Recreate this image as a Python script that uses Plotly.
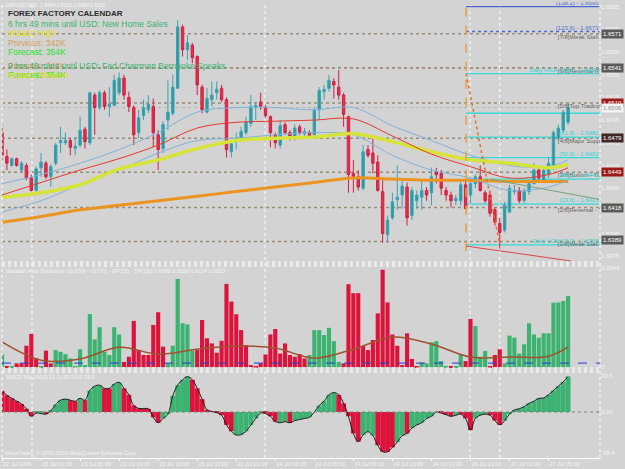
import plotly.graph_objects as go

# ---------------- data ----------------
bar_idx = list(range(117))
opens = [1.6484,1.6463,1.6455,1.6461,1.6451,1.6455,1.6444,1.6433,1.6453,1.6457,
         1.6445,1.6457,1.6475,1.6475,1.6477,1.6470,1.6473,1.6487,1.6475,1.6517,
         1.6506,1.6519,1.6507,1.6508,1.6519,1.6532,1.6515,1.6506,1.6484,1.6499,
         1.6504,1.6507,1.6482,1.6470,1.6495,1.6501,1.6523,1.6577,1.6557,1.6561,
         1.6551,1.6524,1.6502,1.6513,1.6519,1.6523,1.6513,1.6467,1.6476,1.6479,
         1.6484,1.6492,1.6506,1.6511,1.6506,1.6498,1.6482,1.6473,1.6491,1.6484,
         1.6480,1.6489,1.6483,1.6484,1.6482,1.6504,1.6520,1.6523,1.6529,1.6524,
         1.6517,1.6498,1.6448,1.6445,1.6435,1.6469,1.6466,1.6458,1.6432,1.6394,
         1.6409,1.6425,1.6429,1.6436,1.6411,1.6424,1.6427,1.6433,1.6431,1.6449,
         1.6448,1.6433,1.6429,1.6424,1.6424,1.6438,1.6429,1.6439,1.6445,1.6431,
         1.6429,1.6416,1.6404,1.6398,1.6414,1.6432,1.6433,1.6424,1.6432,1.6439,
         1.6451,1.6442,1.6447,1.6453,1.6479,1.6486,1.6493]
highs = [1.6491,1.6469,1.6462,1.6462,1.6459,1.6457,1.6447,1.6454,1.6466,1.6459,
         1.6456,1.6475,1.6489,1.6484,1.6479,1.6480,1.6498,1.6489,1.6520,1.6519,
         1.6521,1.6521,1.6524,1.6535,1.6537,1.6535,1.6520,1.6508,1.6504,1.6513,
         1.6517,1.6514,1.6486,1.6494,1.6530,1.6535,1.6583,1.6579,1.6570,1.6563,
         1.6552,1.6526,1.6523,1.6529,1.6529,1.6526,1.6515,1.6477,1.6484,1.6489,
         1.6498,1.6517,1.6511,1.6519,1.6508,1.6499,1.6484,1.6495,1.6493,1.6486,
         1.6491,1.6491,1.6488,1.6486,1.6506,1.6524,1.6526,1.6535,1.6532,1.6539,
         1.6519,1.6499,1.6460,1.6451,1.6473,1.6473,1.6479,1.6464,1.6444,1.6411,
         1.6431,1.6455,1.6442,1.6440,1.6436,1.6433,1.6442,1.6436,1.6453,1.6453,
         1.6451,1.6436,1.6432,1.6429,1.6442,1.6442,1.6444,1.6447,1.6455,1.6433,
         1.6433,1.6418,1.6409,1.6423,1.6438,1.6438,1.6436,1.6435,1.6442,1.6457,
         1.6454,1.6455,1.6462,1.6486,1.6491,1.6504,1.6510]
lows = [1.6460,1.6451,1.6454,1.6454,1.6449,1.6442,1.6432,1.6432,1.6445,1.6443,
        1.6436,1.6455,1.6466,1.6473,1.6464,1.6464,1.6471,1.6470,1.6473,1.6482,
        1.6504,1.6504,1.6498,1.6507,1.6517,1.6513,1.6502,1.6473,1.6479,1.6495,
        1.6501,1.6471,1.6451,1.6466,1.6486,1.6499,1.6523,1.6551,1.6548,1.6545,
        1.6517,1.6501,1.6501,1.6507,1.6513,1.6511,1.6462,1.6462,1.6469,1.6477,
        1.6482,1.6489,1.6495,1.6504,1.6497,1.6471,1.6470,1.6470,1.6482,1.6477,
        1.6477,1.6482,1.6480,1.6479,1.6480,1.6495,1.6513,1.6520,1.6514,1.6513,
        1.6489,1.6431,1.6431,1.6433,1.6433,1.6462,1.6448,1.6432,1.6387,1.6387,
        1.6407,1.6416,1.6417,1.6402,1.6407,1.6417,1.6416,1.6424,1.6420,1.6439,
        1.6429,1.6424,1.6418,1.6420,1.6420,1.6416,1.6422,1.6435,1.6432,1.6422,
        1.6410,1.6402,1.6382,1.6396,1.6413,1.6429,1.6422,1.6422,1.6429,1.6438,
        1.6440,1.6440,1.6444,1.6451,1.6477,1.6484,1.6491]
closes = [1.6464,1.6457,1.6461,1.6455,1.6457,1.6444,1.6433,1.6452,1.6458,1.6445,
          1.6454,1.6473,1.6477,1.6477,1.6471,1.6472,1.6486,1.6476,1.6519,1.6506,
          1.6519,1.6507,1.6509,1.6530,1.6532,1.6517,1.6507,1.6482,1.6497,1.6506,
          1.6509,1.6484,1.6469,1.6491,1.6502,1.6524,1.6577,1.6557,1.6563,1.6550,
          1.6526,1.6504,1.6514,1.6517,1.6522,1.6513,1.6469,1.6474,1.6479,1.6485,
          1.6493,1.6507,1.6508,1.6507,1.6499,1.6484,1.6475,1.6490,1.6484,1.6480,
          1.6488,1.6484,1.6485,1.6481,1.6504,1.6521,1.6522,1.6530,1.6526,1.6517,
          1.6500,1.6447,1.6445,1.6436,1.6467,1.6464,1.6457,1.6433,1.6395,1.6407,
          1.6423,1.6427,1.6437,1.6409,1.6433,1.6429,1.6433,1.6429,1.6445,1.6447,
          1.6435,1.6429,1.6424,1.6426,1.6438,1.6417,1.6439,1.6445,1.6433,1.6424,
          1.6413,1.6405,1.6396,1.6420,1.6435,1.6433,1.6424,1.6432,1.6439,1.6451,
          1.6444,1.6451,1.6457,1.6484,1.6488,1.6502,1.6506]

ma_idx = [0, 8, 16, 24, 32, 40, 48, 56, 64, 72, 80, 88, 96, 104, 112, 116]
ma_orange = [1.6405,1.6410,1.6416,1.6420,1.6424,1.6428,1.6432,1.6436,1.6440,1.6444,1.6443,1.6442,1.6442,1.6441,1.6441,1.6441]
ma_yellow = [1.6427,1.6431,1.6438,1.6452,1.6460,1.6470,1.6477,1.6479,1.6480,1.6483,1.6476,1.6467,1.6460,1.6457,1.6453,1.6456]
ma_red    = [1.6429,1.6440,1.6451,1.6461,1.6473,1.6488,1.6493,1.6494,1.6495,1.6496,1.6481,1.6465,1.6454,1.6444,1.6447,1.6453]
band_up   = [1.6439,1.6447,1.6457,1.6469,1.6484,1.6502,1.6506,1.6506,1.6504,1.6506,1.6490,1.6477,1.6464,1.6455,1.6454,1.6460]
band_lo   = [1.6414,1.6424,1.6438,1.6451,1.6466,1.6477,1.6479,1.6482,1.6484,1.6482,1.6464,1.6451,1.6444,1.6433,1.6436,1.6442]

murrey_levels = [1.6571, 1.6541, 1.6510, 1.6479, 1.6449, 1.6418, 1.6388]
murrey_names = ["[7/8]Weak Stall and Reverse", "[6/8]Reversal Resistance", "[5/8]Top Trading Range",
                "[4/8]Major Support/Resistance", "[3/8]Bottom - Trading Range",
                "[2/8]Reversal - Support", "[1/8]Weak Stall and Reverse"]
fib_levels = [1.6595, 1.6573, 1.6536, 1.6501, 1.6480, 1.6462, 1.6443, 1.6421, 1.6385]
fib_names = ["(138.2) - 1.6595", "(123.6) - 1.6573", "Daily HIGH (100) - 1.6536", "",
             "(61.8) - 1.6480", "(50.0) - 1.6462", "(38.2) - 1.6443", "(23.6) - 1.6421",
             "Daily LOW (0.0) - 1.6385"]
bid_price = 1.6506
box_prices = [1.6571, 1.6541, 1.6510, 1.6506, 1.6479, 1.6449, 1.6418, 1.6389]
price_ticks = [1.6375, 1.6395, 1.6415, 1.6435, 1.6455, 1.6475, 1.6495, 1.6515, 1.6535, 1.6555, 1.6575, 1.6595]

wae_vals = [0.0045,0.0003,0.0004,0.0013,0.0013,0.0074,0.0115,0.0030,0.0002,0.0057,
            0.0013,0.0059,0.0053,0.0045,0.0030,0.0004,0.0062,0.0007,0.0184,0.0096,
            0.0138,0.0053,0.0042,0.0138,0.0113,0.0018,0.0036,0.0160,0.0059,0.0042,
            0.0042,0.0146,0.0190,0.0071,0.0013,0.0074,0.0305,0.0152,0.0148,0.0056,
            0.0059,0.0163,0.0100,0.0082,0.0050,0.0091,0.0288,0.0227,0.0183,0.0128,
            0.0076,0.0007,0.0001,0.0013,0.0044,0.0113,0.0132,0.0047,0.0082,0.0042,
            0.0036,0.0045,0.0030,0.0042,0.0128,0.0128,0.0111,0.0136,0.0090,0.0018,
            0.0013,0.0287,0.0256,0.0256,0.0073,0.0059,0.0094,0.0186,0.0337,0.0224,
            0.0113,0.0074,0.0007,0.0117,0.0028,0.0001,0.0016,0.0013,0.0086,0.0090,
            0.0021,0.0004,0.0002,0.0002,0.0044,0.0021,0.0167,0.0142,0.0036,0.0056,
            0.0002,0.0042,0.0062,0.0013,0.0109,0.0102,0.0047,0.0079,0.0152,0.0113,
            0.0102,0.0117,0.0117,0.0223,0.0224,0.0229,0.0246]
wae_dir = list("GRGRRRRRGR" "RGGGGGGGGG" "GGGGGRRRRR" "RRRRGGGGGG" "RRRRRRRRRR"
               "RRRRRRRRRR" "RRRGGGGGGG" "RRRRRRRRRR" "RRRRRRGGGG" "GGRGGRRGGG"
               "RRRGGGGGGG" "GGGGGGG")
wae_line = [0.0087,0.0024,0.0028,0.0069,0.0045,0.0062,0.0073,0.0066,0.0031,0.0062,0.0104,0.0080,0.0035,0.0035,0.0038,0.0069]
wae_dead = 0.0014

macd = [19.8,15.5,12.8,10.2,7.5,3.0,-4.0,-1.0,-1.5,-2.0,
        1.0,7.0,11.0,12.0,11.0,10.0,12.7,11.0,20.0,24.0,
        25.0,22.0,22.0,26.0,27.6,22.0,16.0,6.0,3.4,3.2,
        3.0,-5.0,-10.0,-6.0,-2.0,15.0,25.0,30.0,32.9,30.0,
        22.0,12.0,2.0,0.5,-0.6,-3.0,-12.0,-18.0,-21.4,-21.0,
        -18.0,-12.0,-6.0,-1.0,-1.5,-4.0,-9.0,-10.0,-9.0,-10.0,
        -8.0,-7.0,-6.0,-5.0,0.0,6.0,10.0,16.0,18.0,16.0,
        8.0,-4.0,-20.0,-27.6,-21.4,-18.3,-22.0,-31.0,-37.0,-37.0,
        -33.0,-28.0,-22.0,-20.0,-15.0,-12.0,-10.0,-6.0,-4.0,0.0,
        -1.0,-2.5,-4.0,-3.0,-2.0,-6.0,-16.8,-6.0,-3.0,-2.0,
        -3.0,-8.0,-12.0,-8.0,-2.0,1.9,3.0,5.0,8.0,10.0,
        12.7,13.0,16.0,20.0,24.0,28.0,33.0]
macd_dir = list("RRRRRRRGGR" "GGGGRRGRGG" "GRRGGRRRRR" "RRRGGGGGGR" "RRRRRRRRGG"
                "GGGGRRRGGR" "GGGGGGGGGR" "RRRRGGGRRR" "RGGRGGGGGG" "RRRGRRRGGG"
                "RRRGGGGGGG" "GGGGGGG")

date_ticks = [0, 8, 16, 24, 32, 40, 48, 56, 64, 72, 80, 88, 96, 104, 112]
date_labels = ["22 Jul 2009", "23 Jul 01:00", "23 Jul 05:00", "23 Jul 09:00", "23 Jul 13:00",
               "23 Jul 17:00", "23 Jul 21:00", "24 Jul 01:00", "24 Jul 05:00", "24 Jul 09:00",
               "24 Jul 13:00", "24 Jul 17:00", "26 Jul 21:00", "27 Jul 01:00", "27 Jul 05:00"]
separators = [6.15, 53.9, 95.9, 102.0]
fib_start = 95.1

# ---------------- layout geometry ----------------
W, H = 625, 469
ML, MR, MT, MB = 2, 25, 2, 11
PW, PH = W - ML - MR, H - MT - MB
XMAX = 122.54

def pp(xp, yp):
    return (xp - ML) / PW, (H - MB - yp) / PH

BG = '#d3d3d3'
GREEN = '#3cb371'
RED = '#dc143c'
FONT = 'Liberation Sans, Arial, sans-serif'

fig = go.Figure()

# moving averages / bands (behind candles)
fig.add_trace(go.Scatter(x=ma_idx, y=ma_orange, mode='lines', line=dict(color='#ec9420', width=3, shape='spline'), hoverinfo='skip'))
fig.add_trace(go.Scatter(x=ma_idx, y=band_up, mode='lines', line=dict(color='#80b4dc', width=1, shape='spline'), hoverinfo='skip'))
fig.add_trace(go.Scatter(x=ma_idx, y=band_lo, mode='lines', line=dict(color='#80b4dc', width=1, shape='spline'), hoverinfo='skip'))
fig.add_trace(go.Scatter(x=ma_idx, y=ma_yellow, mode='lines', line=dict(color='#d6e43a', width=3.5, shape='spline'), hoverinfo='skip'))
fig.add_trace(go.Scatter(x=ma_idx, y=ma_red, mode='lines', line=dict(color='#e43a2a', width=1, shape='spline'), hoverinfo='skip'))

fig.add_trace(go.Candlestick(
    x=bar_idx, open=opens, high=highs, low=lows, close=closes,
    increasing=dict(line=dict(color='#3aa2b4', width=1), fillcolor='#2b9a9c'),
    decreasing=dict(line=dict(color='#d41e40', width=1), fillcolor='#e2304e'),
    whiskerwidth=0, hoverinfo='skip', xaxis='x', yaxis='y'))

# Murrey labels (clipped text)
fig.add_trace(go.Scatter(x=[113.9] * len(murrey_levels), y=[v - 0.0003 for v in murrey_levels],
                         mode='text', text=murrey_names, textposition='middle right',
                         textfont=dict(size=6, color='#6a6460', family=FONT), hoverinfo='skip', cliponaxis=True))
fib_colors = ['#5070cc', '#5070cc'] + ['#30d4d4'] * (len(fib_levels) - 2)
fig.add_trace(go.Scatter(x=[XMAX - 0.3] * len(fib_levels), y=[v + 0.00028 for v in fib_levels],
                         mode='text', text=fib_names, textposition='middle left',
                         textfont=dict(size=6, color=fib_colors, family=FONT), hoverinfo='skip', cliponaxis=True))

# WAE pane
fig.add_trace(go.Bar(x=bar_idx, y=wae_vals, width=0.85,
                     marker=dict(color=[GREEN if d == 'G' else RED for d in wae_dir], line=dict(width=0)),
                     xaxis='x2', yaxis='y2', hoverinfo='skip'))
fig.add_trace(go.Scatter(x=ma_idx, y=wae_line, mode='lines', line=dict(color='#a0522d', width=1.5, shape='spline'),
                         xaxis='x2', yaxis='y2', hoverinfo='skip'))

# MACD pane
fig.add_trace(go.Bar(x=bar_idx, y=macd, width=1.0,
                     marker=dict(color=[GREEN if d == 'G' else RED for d in macd_dir], line=dict(width=0)),
                     xaxis='x3', yaxis='y3', hoverinfo='skip'))
fig.add_trace(go.Scatter(x=bar_idx, y=macd, mode='lines', line=dict(color='#1c1c1c', width=1, shape='spline'),
                         xaxis='x3', yaxis='y3', hoverinfo='skip'))

# ---------------- shapes ----------------
shapes = []
for lvl in murrey_levels:
    shapes.append(dict(type='line', xref='x', yref='y', x0=0, x1=XMAX, y0=lvl, y1=lvl,
                       line=dict(color='#9a8c78', width=1.6, dash='dot'), layer='below'))
shapes.append(dict(type='line', xref='x', yref='y', x0=0, x1=XMAX, y0=bid_price, y1=bid_price,
                   line=dict(color='#b4b4b4', width=1, dash='dot'), layer='below'))
for i, lvl in enumerate(fib_levels):
    col = '#4a68d0' if i < 2 else '#3ad8d8'
    shapes.append(dict(type='line', xref='x', yref='y', x0=fib_start, x1=XMAX, y0=lvl, y1=lvl,
                       line=dict(color=col, width=1.3, dash='dot' if i == 1 else 'solid'), layer='below'))
shapes.append(dict(type='line', xref='x', yref='y', x0=fib_start, x1=fib_start, y0=1.6380, y1=1.6600,
                   line=dict(color='#e8a040', width=1.5, dash='dash')))
shapes.append(dict(type='line', xref='x', yref='y', x0=fib_start, x1=102.0, y0=fib_levels[2], y1=fib_levels[-1],
                   line=dict(color='#e07030', width=1.5, dash='dot')))
shapes.append(dict(type='line', xref='x', yref='y', x0=fib_start, x1=116.5, y0=1.6384, y1=1.6371,
                   line=dict(color='#d84848', width=1)))
shapes.append(dict(type='line', xref='x', yref='y', x0=100.0, x1=XMAX, y0=1.6443, y1=1.6425,
                   line=dict(color='#7ca07c', width=1)))
for s in separators:
    shapes.append(dict(type='line', xref='x', yref='paper', x0=s, x1=s, y0=0, y1=1,
                       line=dict(color='white', width=1, dash='dot'), layer='below'))
for yb in [262, 264, 266, 368, 370, 372]:
    yv = pp(0, yb)[1]
    shapes.append(dict(type='line', xref='paper', yref='paper', x0=0, x1=1, y0=yv, y1=yv,
                       line=dict(color='white', width=1, dash='dot')))
shapes.append(dict(type='line', xref='paper', yref='paper', x0=1, x1=1, y0=0, y1=1,
                   line=dict(color='white', width=1, dash='dot')))
shapes.append(dict(type='line', xref='paper', yref='paper', x0=0, x1=0, y0=0, y1=1,
                   line=dict(color='white', width=1, dash='dot')))
shapes.append(dict(type='line', xref='x2', yref='y2', x0=0, x1=XMAX, y0=wae_dead, y1=wae_dead,
                   line=dict(color='#2838e0', width=1, dash='dash')))
shapes.append(dict(type='line', xref='x3', yref='y3', x0=0, x1=XMAX, y0=0, y1=0,
                   line=dict(color='#808080', width=1, dash='dot')))

# ---------------- annotations ----------------
ann = []
def txt(xp, yp, s, color, size, bold=False):
    x, y = pp(xp, yp)
    ann.append(dict(xref='paper', yref='paper', x=x, y=y, xanchor='left', yanchor='middle',
                    text=('<b>%s</b>' % s) if bold else s, showarrow=False,
                    font=dict(color=color, size=size, family=FONT)))

txt(3, 5, "GBPUSD,M30  1.6494 1.6506 1.6489 1.6506", '#f4f4f4', 5)
txt(6, 14, "FOREX FACTORY CALENDAR", '#2c2c2c', 8, bold=True)
txt(6, 24, "6 hrs 49 mins until USD: New Home Sales", '#3cb371', 8.5)
txt(6, 33.5, "Impact: High", '#e6e010', 8.5)
txt(6, 43, "Previous: 342K", '#d6a060', 8.5)
txt(6, 52, "Forecast: 354K", '#1ee01e', 8.5)
txt(6, 66, "Previous: 342K", '#d6a060', 8.5)
txt(6, 66, "9 hrs 49 mins until USD: Fed Chairman Bernanke Speaks", '#3cb371', 8.5)
txt(6, 75, "Forecast: 354K", '#1ee01e', 8.5)
txt(6, 75, "Impact: Medium", '#e6e010', 8.5)
txt(4, 271, "Waddah Attar Explosion: [S(150) - C(170) - EP(15) - TP(15)] 0.0080 0.0050 0.0114 0.0033", '#f4f4f4', 5.5)
txt(4, 377, "MACD 5M 200(5,13,1) 33.0 0.0 33.0", '#f4f4f4', 5.5)
txt(3, 453, "MetaTrader, \u00a9 2001-2009 MetaQuotes Software Corp.", '#f4f4f4', 5.5)

box_bg = ['#5a5a5a', '#5a5a5a', '#9a1a1a', '#f2f2f2', '#3e2626', '#9a1a1a', '#5a5a5a', '#5a5a5a']
box_fg = ['white', 'white', 'white', '#909090', 'white', 'white', 'white', 'white']
for p, bg, fg in zip(box_prices, box_bg, box_fg):
    ann.append(dict(xref='paper', yref='y', x=1, y=p, xanchor='left', yanchor='middle', xshift=1,
                    text='%.4f' % p, showarrow=False, bgcolor=bg, borderpad=1,
                    font=dict(color=fg, size=6, family=FONT)))

y_main = [pp(0, 262)[1], 1.0]
y_wae = [pp(0, 368)[1], pp(0, 266)[1]]
y_macd = [0.0, pp(0, 372)[1]]

axis_common = dict(showgrid=False, zeroline=False, fixedrange=True)
fig.update_layout(
    width=W, height=H, margin=dict(l=ML, r=MR, t=MT, b=MB),
    paper_bgcolor=BG, plot_bgcolor=BG, showlegend=False,
    shapes=shapes, annotations=ann,
    xaxis=dict(domain=[0, 1], range=[0, XMAX], anchor='y', showticklabels=False,
               rangeslider=dict(visible=False), **axis_common),
    xaxis2=dict(domain=[0, 1], range=[0, XMAX], anchor='y2', showticklabels=False, **axis_common),
    xaxis3=dict(domain=[0, 1], range=[0, XMAX], anchor='y3', tickmode='array',
                tickvals=date_ticks, ticktext=date_labels, ticklabelposition='outside right',
                ticks='outside', ticklen=2, tickcolor='white', showline=True, linecolor='white',
                tickfont=dict(size=5.5, color='#f4f4f4', family=FONT), **axis_common),
    yaxis=dict(domain=y_main, range=[1.6370, 1.6599], anchor='x', side='right',
               tickmode='array', tickvals=price_ticks, ticktext=['%.4f' % v for v in price_ticks],
               ticks='', tickfont=dict(size=6, color='#f4f4f4', family=FONT), **axis_common),
    yaxis2=dict(domain=y_wae, range=[-0.0003, 0.0350], anchor='x2', side='right',
                tickmode='array', tickvals=[0, 0.0344], ticktext=['0', '0.0344'],
                ticks='', tickfont=dict(size=6, color='#f4f4f4', family=FONT), **axis_common),
    yaxis3=dict(domain=y_macd, range=[-42.8, 37.2], anchor='x3', side='right',
                tickmode='array', tickvals=[-38.4, 0, 33.5], ticktext=['-38.4', '0.00', '33.5'],
                ticks='', tickfont=dict(size=6, color='#f4f4f4', family=FONT), **axis_common),
)

fig.write_html("out.html")
